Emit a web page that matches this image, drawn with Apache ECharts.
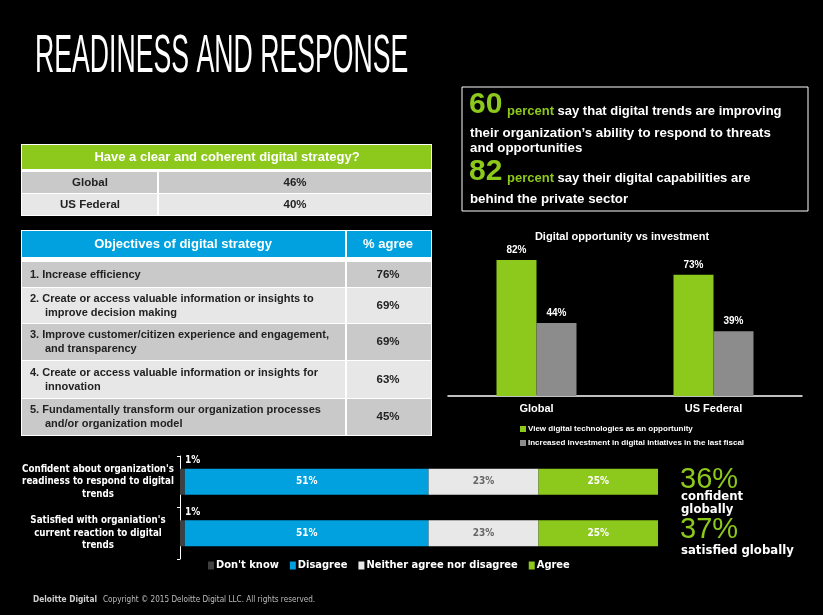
<!DOCTYPE html>
<html>
<head>
<meta charset="utf-8">
<script src="https://cdn.jsdelivr.net/npm/echarts@6/dist/echarts.min.js"></script>
<style>
    html, body { margin: 0; padding: 0; background: #000; }
    #chart { width: 823px; height: 615px; }
</style>
</head>
<body>
<div id="chart"></div>
<script>
// ---------------------------------------------------------------- data
var strategyRows = ['Global', 'US Federal'];
var strategyValues = [46, 40];

var objectiveLines = [
    ['1. Increase efficiency'],
    ['2. Create or access valuable information or insights to', 'improve decision making'],
    ['3. Improve customer/citizen experience and engagement,', 'and transparency'],
    ['4. Create or access valuable information or insights for', 'innovation'],
    ['5. Fundamentally transform our organization processes', 'and/or organization model']
];
var objectiveValues = [76, 69, 69, 63, 45];

var oppCategories = ['Global', 'US Federal'];
var oppView = [82, 73];
var oppInvest = [44, 39];

var readyCategories = [
    "Confident about organization's\nreadiness to respond to digital\ntrends",
    "Satisfied with organiation's\ncurrent reaction to digital\ntrends"
];
var dontKnow = [1, 1];
var disagree = [51, 51];
var neither = [23, 23];
var agree = [25, 25];

// ---------------------------------------------------------------- styles
var GREEN = '#8dc81c', BLUE = '#00a1de', DARK = '#c9c9c9', LIGHT = '#e7e7e7';
var SANS = "'Liberation Sans', Arial, sans-serif";
var NARROW = "'Liberation Sans Narrow', 'DejaVu Sans Condensed', 'Liberation Sans', sans-serif";

function rect(x, y, w, h, fill) {
    return {type: 'rect', shape: {x: x, y: y, width: w, height: h}, style: {fill: fill}, silent: true};
}
function text(x, y, str, opt) {
    opt = opt || {};
    return {
        type: 'text', x: x, y: y, silent: true,
        scaleX: opt.scaleX || 1,
        style: {
            text: str,
            fill: opt.fill || '#fff',
            fontSize: opt.size || 12,
            fontWeight: opt.weight || 'bold',
            fontFamily: opt.family || SANS,
            align: opt.align || 'left',
            verticalAlign: 'middle',
            rich: opt.rich
        }
    };
}

var graphics = [];

// title
graphics.push(text(35, 57, 'READINESS AND RESPONSE', {size: 53, weight: 'normal', scaleX: 0.503}));

// table 1: digital strategy
graphics.push(rect(21, 144, 411, 72, '#fff'));
graphics.push(rect(22, 145, 409, 24, GREEN));
graphics.push(text(227, 157, 'Have a clear and coherent digital strategy?', {size: 13, align: 'center'}));
strategyRows.forEach(function (name, i) {
    var y = 172 + i * 22, bg = i % 2 ? LIGHT : DARK;
    graphics.push(rect(22, y, 135, 21, bg));
    graphics.push(rect(159, y, 272, 21, bg));
    graphics.push(text(90, y + 11, name, {size: 11.5, align: 'center', fill: '#222'}));
    graphics.push(text(295, y + 11, strategyValues[i] + '%', {size: 11.5, align: 'center', fill: '#222'}));
});

// table 2: objectives
var rowTop = [262, 288, 324, 361, 399], rowBottom = [287, 323, 360, 398, 435];
graphics.push(rect(21, 230, 411, 206, '#fff'));
graphics.push(rect(22, 231, 323, 26, BLUE));
graphics.push(rect(347, 231, 84, 26, BLUE));
graphics.push(text(183, 244, 'Objectives of digital strategy', {size: 13, align: 'center'}));
graphics.push(text(388, 244, '% agree', {size: 13, align: 'center'}));
objectiveLines.forEach(function (lines, i) {
    var y0 = rowTop[i], h = rowBottom[i] - y0, mid = y0 + h / 2, bg = i % 2 ? LIGHT : DARK;
    graphics.push(rect(22, y0, 323, h, bg));
    graphics.push(rect(347, y0, 84, h, bg));
    if (lines.length === 1) {
        graphics.push(text(30, mid, lines[0], {size: 11, fill: '#222'}));
    } else {
        graphics.push(text(30, mid - 7, lines[0], {size: 11, fill: '#222'}));
        graphics.push(text(45, mid + 7, lines[1], {size: 11, fill: '#222'}));
    }
    graphics.push(text(388, mid, objectiveValues[i] + '%', {size: 11.5, align: 'center', fill: '#222'}));
});

// text box
graphics.push({type: 'rect', shape: {x: 462, y: 87, width: 346, height: 124}, style: {fill: 'none', stroke: '#fff', lineWidth: 1}, silent: true});
var pcRich = {g: {fill: GREEN, fontSize: 13, fontWeight: 'bold', fontFamily: SANS}};
graphics.push(text(469, 105, '60', {size: 30, fill: GREEN}));
graphics.push(text(507, 111, '{g|percent} say that digital trends are improving', {size: 13, rich: pcRich}));
graphics.push(text(470, 133, 'their organization\u2019s ability to respond to threats', {size: 13.3}));
graphics.push(text(470, 148, 'and opportunities', {size: 13.3}));
graphics.push(text(469, 172, '82', {size: 30, fill: GREEN}));
graphics.push(text(507, 178, '{g|percent} say their digital capabilities are', {size: 13, rich: pcRich}));
graphics.push(text(470, 199, 'behind the private sector', {size: 13.3}));

// bar chart title
graphics.push(text(622, 237, 'Digital opportunity vs investment', {size: 11, align: 'center'}));

// big stats
graphics.push(text(680, 480, '36%', {size: 29, weight: 'normal', fill: GREEN}));
graphics.push(text(681, 497, 'confident', {size: 13, family: NARROW}));
graphics.push(text(681, 510, 'globally', {size: 13, family: NARROW}));
graphics.push(text(680, 530, '37%', {size: 29, weight: 'normal', fill: GREEN}));
graphics.push(text(681, 551, 'satisfied globally', {size: 13, family: NARROW}));

// footer
graphics.push(text(33, 600, 'Deloitte Digital', {size: 9, fill: '#cfcfcf', family: NARROW, scaleX: 0.92}));
graphics.push(text(103, 600, 'Copyright \u00a9 2015 Deloitte Digital LLC. All rights reserved.', {size: 9, weight: 'normal', fill: '#bdbdbd', family: NARROW, scaleX: 0.9}));

// ---------------------------------------------------------------- chart
var chart = echarts.init(document.getElementById('chart'));

function stackSeries(name, data, color, labelColor) {
    return {
        name: name,
        type: 'bar',
        stack: 'ready',
        xAxisIndex: 1,
        yAxisIndex: 1,
        barWidth: 26,
        data: data,
        itemStyle: {color: color},
        label: {
            show: true,
            formatter: '{c}%',
            color: labelColor,
            fontSize: 10,
            fontWeight: 'bold',
            fontFamily: NARROW
        }
    };
}

var dontKnowSeries = stackSeries("Don't know", dontKnow, '#3f3f3f', '#fff');
dontKnowSeries.label.position = [5, -13];

chart.setOption({
    backgroundColor: '#000',
    animation: false,
    graphic: graphics,
    grid: [
        {left: 448, right: 21, top: 230, bottom: 219},
        {left: 180, right: 165, top: 456, bottom: 56}
    ],
    legend: [
        {
            data: ['View digital technologies as an opportunity', 'Increased investment in digital intiatives in the last fiscal'],
            orient: 'vertical',
            left: 515,
            top: 420,
            icon: 'rect',
            itemWidth: 6,
            itemHeight: 6,
            itemGap: 6,
            selectedMode: false,
            textStyle: {color: '#fff', fontSize: 8, fontWeight: 'bold', fontFamily: SANS, padding: [0, 0, 0, -3]}
        },
        {
            data: ["Don't know", 'Disagree', 'Neither agree nor disagree', 'Agree'],
            orient: 'horizontal',
            left: 203,
            top: 555,
            icon: 'rect',
            itemWidth: 6,
            itemHeight: 8,
            itemGap: 11,
            selectedMode: false,
            textStyle: {color: '#fff', fontSize: 11, fontWeight: 'bold', fontFamily: NARROW, padding: [0, 0, 0, -3]}
        }
    ],
    xAxis: [
        {
            gridIndex: 0,
            type: 'category',
            data: oppCategories,
            axisLine: {lineStyle: {color: '#fff', width: 1.5}},
            axisTick: {show: false},
            axisLabel: {color: '#fff', fontSize: 11, fontWeight: 'bold', fontFamily: SANS, margin: 7}
        },
        {gridIndex: 1, type: 'value', min: 0, max: 100, show: false}
    ],
    yAxis: [
        {gridIndex: 0, type: 'value', min: 0, max: 100, show: false},
        {
            gridIndex: 1,
            type: 'category',
            inverse: true,
            data: readyCategories,
            axisLine: {show: true, lineStyle: {color: '#fff'}},
            axisTick: {show: true, length: 3, lineStyle: {color: '#fff'}},
            axisLabel: {
                color: '#fff', fontSize: 9.7, fontWeight: 'bold', fontFamily: NARROW,
                align: 'center', margin: 82, lineHeight: 12.5
            }
        }
    ],
    series: [
        {
            name: 'View digital technologies as an opportunity',
            type: 'bar',
            xAxisIndex: 0,
            yAxisIndex: 0,
            data: oppView,
            barWidth: 40,
            barGap: '0%',
            itemStyle: {color: GREEN},
            label: {show: true, position: 'top', distance: 5, formatter: '{c}%', color: '#fff', fontSize: 10, fontWeight: 'bold', fontFamily: SANS}
        },
        {
            name: 'Increased investment in digital intiatives in the last fiscal',
            type: 'bar',
            xAxisIndex: 0,
            yAxisIndex: 0,
            data: oppInvest,
            barWidth: 40,
            barGap: '0%',
            itemStyle: {color: '#8c8c8c'},
            label: {show: true, position: 'top', distance: 5, formatter: '{c}%', color: '#fff', fontSize: 10, fontWeight: 'bold', fontFamily: SANS}
        },
        dontKnowSeries,
        stackSeries('Disagree', disagree, BLUE, '#fff'),
        stackSeries('Neither agree nor disagree', neither, '#e8e8e8', '#666'),
        stackSeries('Agree', agree, GREEN, '#fff')
    ]
});
</script>
</body>
</html>
